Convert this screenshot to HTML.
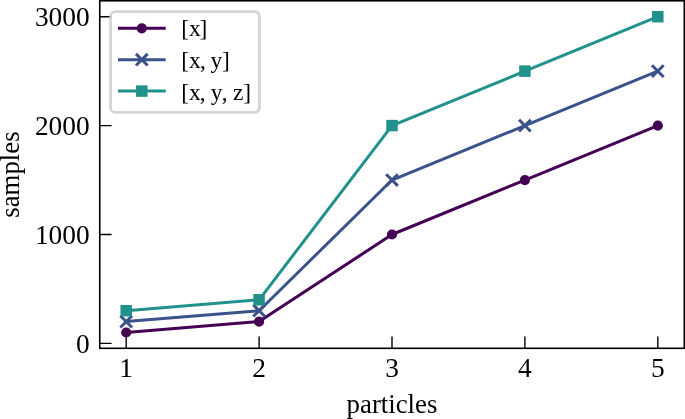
<!DOCTYPE html>
<html><head><meta charset="utf-8">
<style>
html,body{margin:0;padding:0;background:#fff;width:685px;height:419px;overflow:hidden}
svg{display:block}
text{font-family:"Liberation Serif",serif;fill:#000}
svg{will-change:transform}
</style></head><body>
<svg width="685" height="419" viewBox="0 0 685 419">
<rect width="685" height="419" fill="#fff"/>
<!-- ticks (below lines) -->
<g stroke="#000" stroke-width="1.4" fill="none">
<path d="M126.2 348.3V336.6M259.1 348.3V336.6M392 348.3V336.6M524.9 348.3V336.6M657.8 348.3V336.6"/>
<path d="M99.6 343.4H111.6M99.6 234.5H111.6M99.6 125.6H111.6M99.6 16.7H111.6"/>
</g>
<!-- data lines -->
<g fill="none" stroke-width="3" stroke-linejoin="round">
<polyline stroke="#440154" points="126.2,332.5 259.1,321.6 392,234.5 524.9,180.05 657.8,125.6"/>
<g fill="#440154">
<circle cx="126.2" cy="332.5" r="5.1"/><circle cx="259.1" cy="321.6" r="5.1"/><circle cx="392" cy="234.5" r="5.1"/><circle cx="524.9" cy="180.05" r="5.1"/><circle cx="657.8" cy="125.6" r="5.1"/>
</g>
<polyline stroke="#3b528b" points="126.2,321.6 259.1,310.7 392,180.05 524.9,125.6 657.8,71.15"/>
<path stroke="#3b528b" stroke-width="3" d="M120.35 315.75l11.7 11.7m0 -11.7l-11.7 11.7M253.25 304.85l11.7 11.7m0 -11.7l-11.7 11.7M386.15 174.20l11.7 11.7m0 -11.7l-11.7 11.7M519.05 119.75l11.7 11.7m0 -11.7l-11.7 11.7M651.95 65.30l11.7 11.7m0 -11.7l-11.7 11.7"/>
<polyline stroke="#21918c" points="126.2,310.7 259.1,299.8 392,125.6 524.9,71.15 657.8,16.7"/>
<g fill="#21918c" stroke="none">
<rect x="120.45" y="304.95" width="11.5" height="11.5"/><rect x="253.35" y="294.05" width="11.5" height="11.5"/><rect x="386.25" y="119.85" width="11.5" height="11.5"/><rect x="519.15" y="65.4" width="11.5" height="11.5"/><rect x="652.05" y="10.95" width="11.5" height="11.5"/>
</g>
</g>
<!-- spines -->
<rect x="99.75" y="0.8" width="584.55" height="347.5" fill="none" stroke="#000" stroke-width="1.6"/>
<!-- tick labels -->
<g font-size="27.4" text-anchor="middle">
<text x="126.2" y="377">1</text><text x="259.1" y="377">2</text><text x="392" y="377">3</text><text x="524.9" y="377">4</text><text x="657.8" y="377">5</text>
</g>
<g font-size="27.4" text-anchor="end">
<text x="89.7" y="353.1">0</text><text x="89.7" y="244.2">1000</text><text x="89.7" y="135.3">2000</text><text x="89.7" y="26.4">3000</text>
</g>
<text font-size="26.8" x="392" y="413.3" text-anchor="middle">particles</text>
<text font-size="26.8" transform="translate(19.1 174.6) rotate(-90)" text-anchor="middle">samples</text>
<!-- legend -->
<rect x="110.6" y="11.6" width="148.8" height="100.7" rx="4.8" ry="4.8" fill="#fff" fill-opacity="0.8" stroke="#cacaca" stroke-opacity="0.8" stroke-width="2.8"/>
<g fill="none" stroke-width="3">
<path stroke="#440154" d="M118 28.3H165.7"/>
<circle cx="141.8" cy="28.3" r="5.1" fill="#440154" stroke="none"/>
<path stroke="#3b528b" d="M118 59.7H165.7M135.95 53.85l11.7 11.7m0 -11.7l-11.7 11.7"/>
<path stroke="#21918c" d="M118 91.1H165.7"/>
<rect x="136.05" y="85.35" width="11.5" height="11.5" fill="#21918c" stroke="none"/>
</g>
<g font-size="23.5">
<text x="181.3 189 199.4" y="36.3">[x]</text>
<text x="181.3 189 200.1 205.9 210.6 222.1" y="67.8">[x, y]</text>
<text x="181.3 189 199.8 205.6 210.7 221.7 227.5 233 243.3" y="99.5">[x, y, z]</text>
</g>
</svg>
</body></html>
